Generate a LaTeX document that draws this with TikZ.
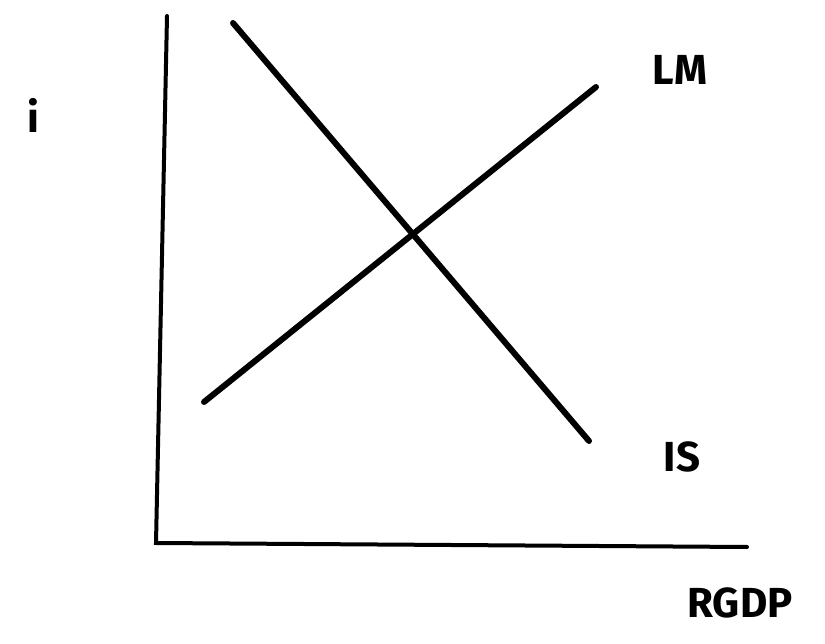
\documentclass[tikz,border=0pt]{standalone}
\usepackage{fontspec}
\setmainfont{Fira Sans}
\begin{document}
\begin{tikzpicture}[x=1pt,y=-1pt,
  axis/.style={line width=4pt,line cap=round},
  curve/.style={line width=6pt,line cap=round},
  lbl/.style={font=\fontsize{42}{44}\selectfont\bfseries,inner sep=0pt}]
\useasboundingbox (0,0) rectangle (825,644);
\coordinate (ytop) at (167,16);
\coordinate (orig) at (156,543);
\coordinate (xend) at (747,547);
\draw[axis] (ytop) -- (orig) -- (xend);
\coordinate (lm1) at (204,402);
\coordinate (lm2) at (596,87);
\coordinate (is1) at (233,23);
\coordinate (is2) at (589,441);
\draw[curve] (lm1) -- (lm2);
\draw[curve] (is1) -- (is2);
\node[lbl] (i) at (33,115) {i};
\node[lbl] (lm) at (680,70) {LM};
\node[lbl] (is) at (682,457) {IS};
\node[lbl] (gdp) at (740,603) {RGDP};
\end{tikzpicture}
\end{document}
